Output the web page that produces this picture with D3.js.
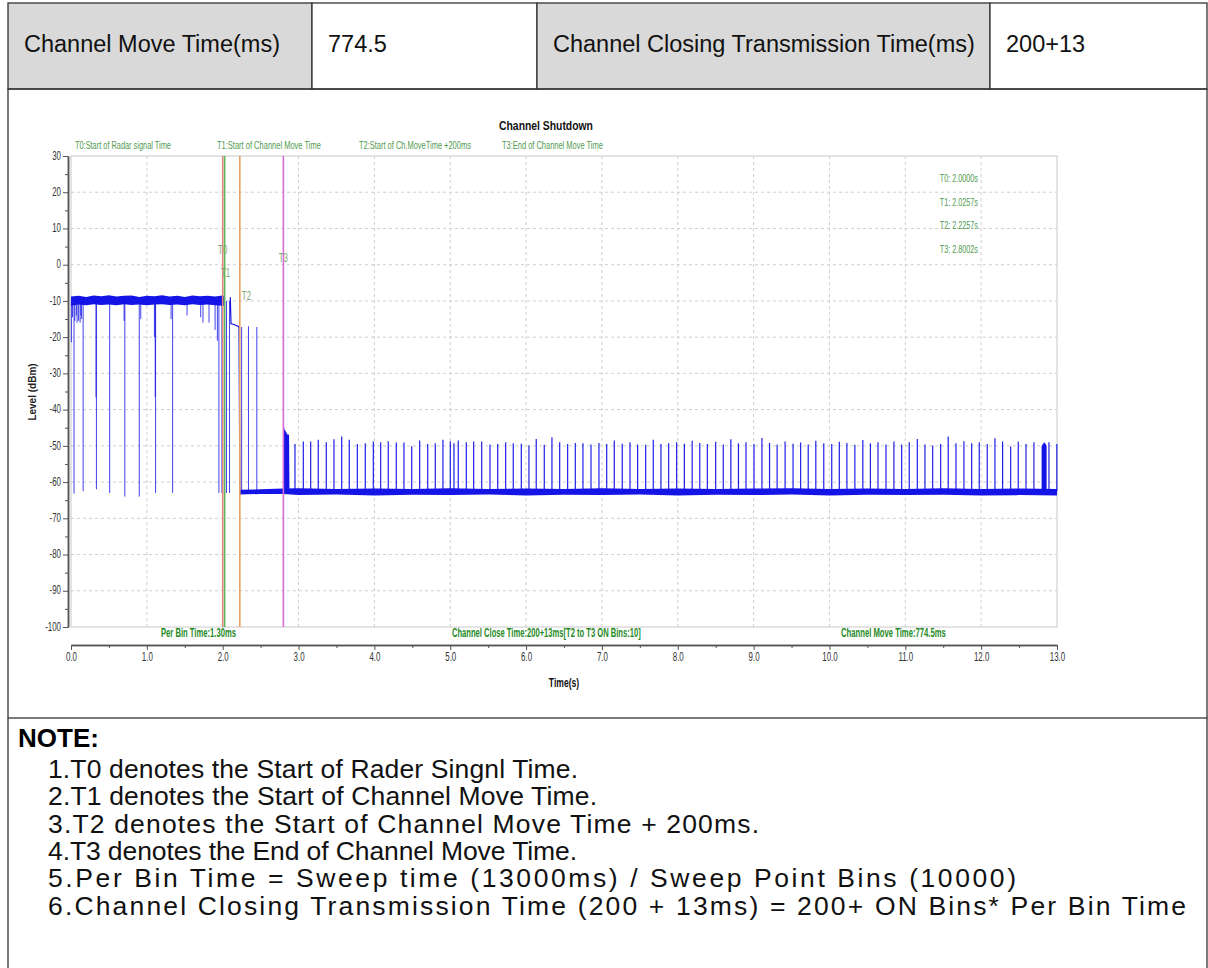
<!DOCTYPE html>
<html>
<head>
<meta charset="utf-8">
<script src="https://cdn.jsdelivr.net/npm/d3@7"></script>
<style>
  body { margin: 0; background: #fff; }
  svg { display: block; font-family: "Liberation Sans", Arial, sans-serif; }
</style>
</head>
<body>
<svg id="page"></svg>
<script>
// ---- data ----
let headerCells = ["Channel Move Time(ms)", "774.5", "Channel Closing Transmission Time(ms)", "200+13"];

let noteTitle = "NOTE:";
let noteLines = [
  "1.T0 denotes the Start of Rader Singnl Time.",
  "2.T1 denotes the Start of Channel Move Time.",
  "3.T2 denotes the Start of Channel Move Time + 200ms.",
  "4.T3 denotes the End of Channel Move Time.",
  "5.Per Bin Time = Sweep time (13000ms) / Sweep Point Bins (10000)",
  "6.Channel Closing Transmission Time (200 + 13ms) = 200+ ON Bins* Per Bin Time",
];

let chartTitle = "Channel Shutdown";
let xLabel = "Time(s)";
let yLabel = "Level (dBm)";

let xTicks = [0, 1, 2, 3, 4, 5, 6, 7, 8, 9, 10, 11, 12, 13];
let xMinorTicks = [0.5, 1.5, 2.5, 3.5, 4.5, 5.5, 6.5, 7.5, 8.5, 9.5, 10.5, 11.5, 12.5];
let yTicks = [30, 20, 10, 0, -10, -20, -30, -40, -50, -60, -70, -80, -90, -100];
let yMinorTicks = [25, 15, 5, -5, -15, -25, -35, -45, -55, -65, -75, -85, -95];

let markerNames = ["T0", "T1", "T2", "T3"];
let markerTimes = [2.0, 2.0257, 2.2257, 2.8002];
let markerValues = ["T0: 2.0000s", "T1: 2.0257s", "T2: 2.2257s", "T3: 2.8002s"];
let markerLegend = [
  "T0:Start of Radar signal Time",
  "T1:Start of Channel Move Time",
  "T2:Start of Ch.MoveTime +200ms",
  "T3:End of Channel Move Time",
];
let footNotes = [
  "Per Bin Time:1.30ms",
  "Channel Close Time:200+13ms[T2 to T3 ON Bins:10]",
  "Channel Move Time:774.5ms",
];

// transmitting level (before the channel move)
let highT = [0.0, 0.1, 0.2, 0.3, 0.4, 0.5, 0.6, 0.7, 0.8, 0.9, 1.0, 1.1, 1.2, 1.3, 1.4, 1.5, 1.6, 1.7, 1.8, 1.9, 2.0, 2.03];
let highTop = [-8.8, -8.6, -8.9, -8.5, -8.7, -8.4, -8.8, -8.6, -8.5, -8.9, -8.6, -8.7, -8.4, -8.8, -8.6, -8.9, -8.5, -8.7, -8.6, -8.8, -8.5, -8.7];
let highBottom = [-11.3, -11.0, -11.2, -10.9, -11.1, -11.0, -11.2, -10.9, -11.1, -11.0, -11.2, -11.0, -10.9, -11.1, -11.0, -11.2, -10.9, -11.1, -11.0, -11.2, -11.3, -11.5];

// noise floor after the channel move
let lowT = [2.226, 2.5, 2.8, 3.0, 3.5, 4.0, 4.5, 5.0, 5.5, 6.0, 6.5, 7.0, 7.5, 8.0, 8.5, 9.0, 9.5, 10.0, 10.5, 11.0, 11.5, 12.0, 12.5, 13.0];
let lowTop = [-62.1, -62.0, -61.8, -61.7, -61.9, -61.8, -61.9, -61.7, -61.9, -61.8, -61.9, -61.7, -61.9, -61.8, -61.9, -61.8, -61.7, -61.9, -61.8, -61.9, -61.7, -61.9, -61.8, -61.9];
let lowBottom = [-63.4, -63.3, -63.3, -63.6, -63.4, -63.7, -63.5, -63.6, -63.4, -63.7, -63.5, -63.6, -63.4, -63.7, -63.5, -63.6, -63.4, -63.7, -63.5, -63.6, -63.5, -63.7, -63.6, -63.7];

// downward dips while transmitting
let dipT = [0.005, 0.02, 0.04, 0.05, 0.07, 0.08, 0.10, 0.12, 0.13, 0.14, 0.16, 0.33, 0.335, 0.51, 0.70, 0.71, 0.90, 0.92, 1.10, 1.11, 1.115, 1.32, 1.34, 1.53, 1.71, 1.74, 1.82, 1.90, 1.93, 1.95, 1.99, 2.05, 2.09];
let dipLevel = [-21.4, -14.5, -63.2, -15.5, -14, -16, -15.5, -16, -14, -15, -62.5, -36.6, -62, -63, -15.5, -64, -64, -15, -20, -36.5, -63, -15, -63, -14, -14.5, -16, -16, -18, -21, -63, -63, -63, -63];

// step down between T1 and T2
let stepT = [2.10, 2.11, 2.15, 2.19, 2.205, 2.215, 2.222, 2.226];
let stepLevel = [-9.0, -16.3, -16.5, -16.9, -17.0, -17.3, -45.0, -62.8];

// short bursts left after T2
let lateT = [2.25, 2.34, 2.45];
let lateLevel = [-17.2, -17.0, -17.2];

// burst right at T3 and near the end
let burstT = [2.800, 2.805, 2.815, 2.830, 2.845, 2.860, 2.875, 2.880];
let burstTop = [-43.5, -44.0, -45.5, -46.0, -46.5, -47.0, -46.8, -62.0];
let endBurstT = [12.797, 12.81, 12.83, 12.85, 12.863];
let endBurstTop = [-50.2, -49.6, -49.0, -49.5, -50.0];

// periodic spikes on the noise floor
let spikeT = [
  2.953, 3.063, 3.160, 3.260, 3.366, 3.467, 3.569, 3.669, 3.775, 3.880,
  3.986, 4.083, 4.183, 4.289, 4.390, 4.492, 4.597, 4.703, 4.803, 4.904,
  5.001, 5.049, 5.106, 5.212, 5.309, 5.415, 5.524, 5.626, 5.731, 5.831,
  5.937, 6.038, 6.134, 6.240, 6.341, 6.443, 6.548, 6.649, 6.750, 6.856,
  6.961, 7.063, 7.163, 7.268, 7.370, 7.471, 7.577, 7.677, 7.778, 7.880,
  7.985, 8.087, 8.190, 8.290, 8.390, 8.500, 8.600, 8.700, 8.800, 8.900,
  9.005, 9.110, 9.210, 9.310, 9.415, 9.520, 9.620, 9.720, 9.820, 9.925,
  10.030, 10.130, 10.230, 10.335, 10.440, 10.540, 10.640, 10.745, 10.850, 10.952,
  11.052, 11.158, 11.259, 11.361, 11.466, 11.566, 11.668, 11.773, 11.875, 11.975,
  12.080, 12.182, 12.283, 12.389, 12.489, 12.591, 12.696, 12.894, 12.998,
];
let spikeLevel = [
  -49.5, -48.8, -48.8, -48.3, -49.0, -48.2, -47.4, -48.3, -49.5, -49.3,
  -48.8, -49.0, -48.7, -49.1, -49.1, -50.1, -48.5, -49.5, -49.3, -48.3,
  -48.7, -49.3, -48.5, -49.0, -48.8, -48.8, -49.6, -49.5, -49.0, -49.3,
  -49.4, -49.9, -48.1, -49.7, -47.6, -49.0, -49.5, -49.2, -49.3, -49.6,
  -49.2, -49.5, -48.5, -49.4, -49.0, -49.6, -49.7, -48.3, -49.5, -49.3,
  -49.0, -49.4, -48.6, -49.2, -49.5, -48.9, -49.6, -48.2, -49.3, -49.0,
  -49.5, -47.8, -49.2, -49.6, -48.8, -49.4, -49.1, -49.6, -48.6, -49.3,
  -49.5, -48.9, -49.2, -49.7, -48.4, -49.3, -49.0, -49.6, -48.8, -49.6,
  -49.0, -48.1, -49.6, -49.9, -49.5, -47.4, -49.3, -48.7, -49.3, -49.0,
  -49.5, -47.9, -48.8, -50.2, -48.8, -49.5, -49.0, -49.0, -49.5,
];

// ---- layout ----
let width = 1208;
let height = 968;
let plot = { left: 71, right: 1057, top: 156, bottom: 627 };
let blue = "#1414e6";
let green = "#4f9a4f";
let markerColors = ["#e3877d", "#5cb85c", "#e8a062", "#d96bd9"];
let squeeze = 0.66; // the chart software uses a very narrow face

let svg = d3.select("#page").attr("width", width).attr("height", height);

let xScale = d3.scaleLinear().domain([0, 13]).range([plot.left, plot.right]);
let yScale = d3.scaleLinear().domain([-100, 30]).range([plot.bottom, plot.top]);

// place a text at (x, y) squeezed horizontally
function narrowAt(sel, fx, fy) {
  sel.attr("transform", (d, i) => `translate(${fx(d, i)},${fy(d, i)}) scale(${squeeze},1)`);
}

// place a text at (x, y) and squeeze it to a given width
function fitAt(sel, fx, fy, fw) {
  sel.each(function (d, i) {
    let k = fw(d, i) / this.getComputedTextLength();
    d3.select(this).attr("transform", `translate(${fx(d, i)},${fy(d, i)}) scale(${k},1)`);
  });
}

// Table frame, header row and notes
function drawTable() {
  let cellX = [8, 312, 537, 990, 1207];
  let fills = ["#d9d9d9", "#fff", "#d9d9d9", "#fff"];
  headerCells.forEach((txt, i) => {
    svg.append("rect")
      .attr("x", cellX[i]).attr("y", 3)
      .attr("width", cellX[i + 1] - cellX[i]).attr("height", 86)
      .attr("fill", fills[i]).attr("stroke", "#333").attr("stroke-width", 1.3);
    svg.append("text")
      .attr("x", cellX[i] + 16).attr("y", 46)
      .attr("dominant-baseline", "middle")
      .style("font-size", "23.5px").style("fill", "#111")
      .text(txt);
  });
  svg.append("rect").attr("x", 8).attr("y", 89).attr("width", 1199).attr("height", 629)
    .attr("fill", "none").attr("stroke", "#333").attr("stroke-width", 1.3);
  svg.append("path").attr("d", "M8,718V970M1207,718V970")
    .attr("stroke", "#333").attr("stroke-width", 1.3);

  svg.append("text").attr("x", 18).attr("y", 740).attr("dominant-baseline", "middle")
    .style("font-size", "26px").style("font-weight", "bold").text(noteTitle);
  // the original face is wider on digits and spaces, so spread each line to its width
  let noteW = [530, 549, 711, 529, 968, 1138];
  svg.selectAll(".note").data(noteLines).enter().append("text")
    .attr("class", "note")
    .attr("x", 48).attr("y", (d, i) => 771 + i * 27.3)
    .attr("dominant-baseline", "middle")
    .attr("textLength", (d, i) => noteW[i]).attr("lengthAdjust", "spacing")
    .style("font-size", "26.5px").style("fill", "#111")
    .text((d) => d);
}

// Grid and plot frame
function drawGrid() {
  let g = svg.append("g");
  g.selectAll(".vg").data(xTicks.slice(1, -1)).enter().append("line")
    .attr("x1", (d) => xScale(d)).attr("x2", (d) => xScale(d))
    .attr("y1", plot.top).attr("y2", plot.bottom)
    .attr("stroke", "#cfcfcf").attr("stroke-dasharray", "3,3");
  g.selectAll(".hg").data(yTicks.slice(1, -1)).enter().append("line")
    .attr("x1", plot.left).attr("x2", plot.right)
    .attr("y1", (d) => yScale(d)).attr("y2", (d) => yScale(d))
    .attr("stroke", "#cfcfcf").attr("stroke-dasharray", "3,3");
  g.append("rect")
    .attr("x", plot.left).attr("y", plot.top)
    .attr("width", plot.right - plot.left).attr("height", plot.bottom - plot.top)
    .attr("fill", "none").attr("stroke", "#c8c8c8");
}

// Axes with major and minor ticks
function drawAxes() {
  let yAxis = d3.axisLeft(yScale).tickValues(yTicks).tickSize(5).tickSizeOuter(0)
    .tickFormat((d) => String(d));
  let yg = svg.append("g").attr("transform", "translate(68,0)").call(yAxis);
  svg.append("g").attr("transform", "translate(68,0)")
    .call(d3.axisLeft(yScale).tickValues(yMinorTicks).tickSize(3).tickSizeOuter(0).tickFormat(""));

  let xAxis = d3.axisBottom(xScale).tickValues(xTicks).tickSize(5).tickSizeOuter(0)
    .tickFormat(d3.format(".1f"));
  let xg = svg.append("g").attr("transform", "translate(0,645)").call(xAxis);
  svg.append("g").attr("transform", "translate(0,645)")
    .call(d3.axisBottom(xScale).tickValues(xMinorTicks).tickSize(3).tickSizeOuter(0).tickFormat(""));

  svg.selectAll(".domain").attr("stroke", "#555").attr("stroke-width", 1.5);
  svg.selectAll(".tick line").attr("stroke", "#555");

  yg.selectAll("text")
    .attr("x", null).attr("dy", null)
    .attr("dominant-baseline", "middle")
    .style("font-size", "12px").style("fill", "#333");
  narrowAt(yg.selectAll("text"), () => -7, () => 0);

  xg.selectAll("text")
    .attr("y", null).attr("dy", null)
    .attr("dominant-baseline", "middle")
    .style("font-size", "12px").style("fill", "#333");
  narrowAt(xg.selectAll("text"), () => 0, () => 13);

  svg.append("text")
    .attr("text-anchor", "middle").attr("dominant-baseline", "middle")
    .style("font-size", "13px").style("font-weight", "bold").style("fill", "#111")
    .call(narrowAt, () => 564, () => 684)
    .text(xLabel);
  svg.append("text")
    .attr("transform", "translate(33,392) rotate(-90)")
    .attr("text-anchor", "middle").attr("dominant-baseline", "middle")
    .style("font-size", "10px").style("font-weight", "bold").style("fill", "#222")
    .text(yLabel);
}

// Spectrum trace: noise bands, dips, spikes
function drawTrace() {
  let g = svg.append("g");
  let band = d3.area().x((d) => xScale(d[0])).y0((d) => yScale(d[2])).y1((d) => yScale(d[1]));

  g.append("path").datum(highT.map((t, i) => [t, highTop[i], highBottom[i]]))
    .attr("d", band).attr("fill", blue);
  g.append("path").datum(lowT.map((t, i) => [t, lowTop[i], lowBottom[i]]))
    .attr("d", band).attr("fill", blue);
  g.append("path").datum(burstT.map((t, i) => [t, burstTop[i], -63]))
    .attr("d", band).attr("fill", blue);
  g.append("path").datum(endBurstT.map((t, i) => [t, endBurstTop[i], -63]))
    .attr("d", band).attr("fill", blue);

  let line = d3.line().x((d) => xScale(d[0])).y((d) => yScale(d[1]));
  g.append("path").datum(stepT.map((t, i) => [t, stepLevel[i]]))
    .attr("d", line).attr("fill", "none").attr("stroke", blue).attr("stroke-width", 1.2);

  g.selectAll(".dip").data(dipT.map((t, i) => [t, dipLevel[i]])).enter().append("line")
    .attr("x1", (d) => xScale(d[0])).attr("x2", (d) => xScale(d[0]))
    .attr("y1", yScale(-10)).attr("y2", (d) => yScale(d[1]))
    .attr("stroke", blue).attr("stroke-width", 1).attr("opacity", 0.8);

  g.selectAll(".late").data(lateT.map((t, i) => [t, lateLevel[i]])).enter().append("line")
    .attr("x1", (d) => xScale(d[0])).attr("x2", (d) => xScale(d[0]))
    .attr("y1", yScale(-62.5)).attr("y2", (d) => yScale(d[1]))
    .attr("stroke", blue).attr("stroke-width", 1).attr("opacity", 0.8);

  g.selectAll(".spike").data(spikeT.map((t, i) => [t, spikeLevel[i]])).enter().append("line")
    .attr("x1", (d) => xScale(d[0])).attr("x2", (d) => xScale(d[0]))
    .attr("y1", yScale(-62.5)).attr("y2", (d) => yScale(d[1]))
    .attr("stroke", blue).attr("stroke-width", 1.2).attr("opacity", 0.95);
}

// T0..T3 marker lines, labels, title and footnotes
function drawMarkers() {
  let g = svg.append("g");
  g.selectAll(".marker").data(markerTimes).enter().append("line")
    .attr("x1", (d) => xScale(d)).attr("x2", (d) => xScale(d))
    .attr("y1", plot.top).attr("y2", plot.bottom)
    .attr("stroke", (d, i) => markerColors[i]).attr("stroke-width", 1.6);

  let labelLevel = [3.8, -2.4, -9.0, 1.5];
  let labelShift = [0, 1, 2, 0];
  g.selectAll(".mlabel").data(markerNames).enter().append("text")
    .attr("text-anchor", (d, i) => (i == 2 ? "start" : "middle"))
    .attr("dominant-baseline", "middle")
    .style("font-size", "12px").style("fill", "#7fa870")
    .call(narrowAt, (d, i) => xScale(markerTimes[i]) + labelShift[i], (d, i) => yScale(labelLevel[i]))
    .text((d) => d);

  g.selectAll(".mval").data(markerValues).enter().append("text")
    .attr("text-anchor", "end").attr("dominant-baseline", "middle")
    .style("font-size", "11px").style("fill", green)
    .call(narrowAt, () => 978, (d, i) => 179 + i * 23.7)
    .text((d) => d);

  let legendX = [75, 217, 359, 502];
  let legendW = [96, 104, 112, 101];
  g.selectAll(".mleg").data(markerLegend).enter().append("text")
    .attr("dominant-baseline", "middle")
    .style("font-size", "11px").style("fill", green)
    .text((d) => d)
    .call(fitAt, (d, i) => legendX[i], () => 146, (d, i) => legendW[i]);

  svg.append("text")
    .attr("text-anchor", "middle").attr("dominant-baseline", "middle")
    .style("font-size", "13px").style("font-weight", "bold").style("fill", "#111")
    .text(chartTitle)
    .call(fitAt, () => 546, () => 127, () => 94);

  let footX = [161, 452, 841];
  let footW = [75, 189, 105];
  g.selectAll(".foot").data(footNotes).enter().append("text")
    .attr("dominant-baseline", "middle")
    .style("font-size", "12px").style("font-weight", "bold").style("fill", "#1f8a1f")
    .text((d) => d)
    .call(fitAt, (d, i) => footX[i], () => 634, (d, i) => footW[i]);
}

drawTable();
drawGrid();
drawAxes();
drawTrace();
drawMarkers();
</script>
</body>
</html>
